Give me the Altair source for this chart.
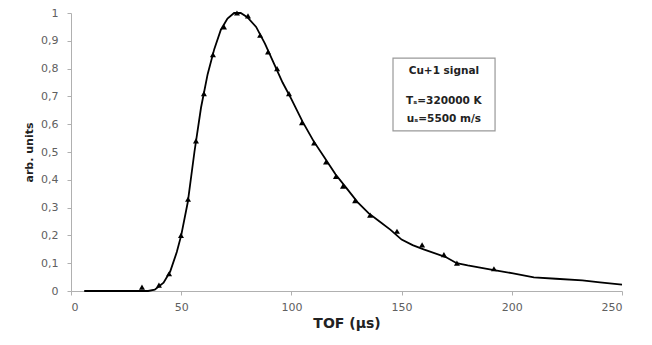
import altair as alt
import pandas as pd

# measured data points (TOF in µs, normalized signal)
pt_tof = [32.2, 39.9, 44.5, 49.9, 53.1, 56.7, 60.3, 64.4, 69.4, 75.3, 80.3, 85.8,
          89.4, 93.5, 98.9, 104.8, 110.3, 115.7, 120.2, 123.4, 128.9, 135.7,
          147.9, 159.3, 169.2, 175.1, 191.9]
pt_sig = [0.014, 0.021, 0.062, 0.20, 0.33, 0.54, 0.71, 0.85, 0.95, 1.0, 0.99, 0.92,
          0.86, 0.80, 0.71, 0.606, 0.533, 0.464, 0.412, 0.377, 0.325, 0.273,
          0.215, 0.166, 0.131, 0.100, 0.080]

# fitted curve
fit_tof = [6, 35, 38, 42, 45, 48, 50, 53, 56, 59, 62, 65, 68, 71, 74, 77, 80, 84, 88,
           92, 96, 100, 105, 110, 115, 120, 125, 130, 135, 140, 145, 150, 155, 160,
           170, 175, 180, 190, 200, 210, 220, 232, 240, 250]
fit_sig = [0, 0, 0.005, 0.03, 0.07, 0.14, 0.2, 0.32, 0.5, 0.66, 0.78, 0.87, 0.94, 0.98,
           1.0, 1.0, 0.985, 0.95, 0.89, 0.82, 0.75, 0.69, 0.61, 0.54, 0.48, 0.42, 0.37,
           0.32, 0.28, 0.25, 0.22, 0.185, 0.165, 0.15, 0.122, 0.10, 0.092, 0.078,
           0.064, 0.049, 0.044, 0.038, 0.031, 0.023]

box_x = [146.1]
box_x2 = [192.4]
box_y = [0.838]
box_y2 = [0.576]
note_lines = ["Cu+1 signal", "Tₛ=320000 K", "uₛ=5500 m/s"]
note_x = [169.2, 169.2, 169.2]
note_y = [0.79, 0.683, 0.619]

x_ticks = [0, 50, 100, 150, 200, 250]
y_ticks = [0, 0.1, 0.2, 0.3, 0.4, 0.5, 0.6, 0.7, 0.8, 0.9, 1.0]

pts = pd.DataFrame({"tof": pt_tof, "sig": pt_sig})
fit = pd.DataFrame({"tof": fit_tof, "sig": fit_sig})
box = pd.DataFrame({"x": box_x, "x2": box_x2, "y": box_y, "y2": box_y2})
notes = pd.DataFrame({"t": note_lines, "x": note_x, "y": note_y})

xscale = alt.Scale(domain=[0, 250], nice=False)
yscale = alt.Scale(domain=[0, 1], nice=False)

FONT = "DejaVu Sans"

xaxis = alt.Axis(title="TOF (µs)", values=x_ticks, grid=False, domainColor="#b0b0b0",
                 tickColor="#b0b0b0", tickSize=4, labelColor="#606060", labelFontSize=11,
                 labelFont=FONT, titleFont=FONT, titleFontSize=14,
                 titleFontWeight="bold", titleColor="#222222", labelPadding=6, titlePadding=4,
                 labelOverlap=False)
yaxis = alt.Axis(title="arb. units", values=y_ticks, grid=False, domainColor="#b0b0b0",
                 tickColor="#b0b0b0", tickSize=4, labelColor="#606060", labelFontSize=11,
                 labelFont=FONT, titleFont=FONT, titleFontSize=11,
                 titleFontWeight="bold", titleColor="#222222", labelPadding=9, titlePadding=6,
                 labelOverlap=False, labelBound=False,
                 labelExpr="replace(format(datum.value, '.1~f'), '.', ',')")

line = alt.Chart(fit).mark_line(color="black", strokeWidth=1.8).encode(
    x=alt.X("tof:Q", scale=xscale, axis=xaxis),
    y=alt.Y("sig:Q", scale=yscale, axis=yaxis),
)
points = alt.Chart(pts).mark_point(shape="triangle-up", filled=True, color="black",
                                   size=36, opacity=1).encode(
    x=alt.X("tof:Q", scale=xscale, axis=xaxis),
    y=alt.Y("sig:Q", scale=yscale, axis=yaxis),
)
rect = alt.Chart(box).mark_rect(fill="white", stroke="#999999", strokeWidth=1.2).encode(
    x=alt.X("x:Q", scale=xscale, axis=xaxis), x2="x2:Q",
    y=alt.Y("y:Q", scale=yscale, axis=yaxis), y2="y2:Q",
)
text = alt.Chart(notes).mark_text(font=FONT, fontSize=10.5, fontWeight="bold",
                                  color="#222222").encode(
    x=alt.X("x:Q", scale=xscale, axis=xaxis),
    y=alt.Y("y:Q", scale=yscale, axis=yaxis),
    text="t:N",
)

chart = alt.layer(line, points, rect, text).properties(
    width=551, height=278,
    background="white",
    autosize=alt.AutoSizeParams(type="none"),
    padding={"left": 63, "top": 5, "right": 10, "bottom": 40},
).configure_view(stroke=None)

chart.save("out.html", embed_options={"renderer": "svg", "actions": False})
